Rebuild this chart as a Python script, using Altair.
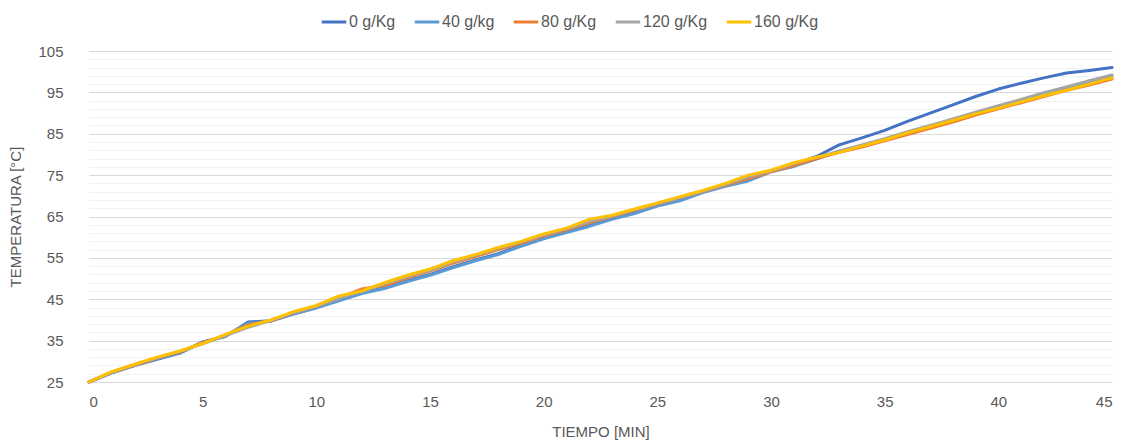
import altair as alt
import pandas as pd

minutes = list(range(46))
series_names = ["0 g/Kg", "40 g/kg", "80 g/Kg", "120 g/Kg", "160 g/Kg"]
series_colors = ["#4472C4", "#5B9BD5", "#ED7D31", "#A5A5A5", "#FFC000"]

s0 = [25, 27.2, 29, 30.5, 32, 34.7, 36, 39.5, 39.8, 41.5, 43, 44.8, 46.5, 47.8, 49.5, 51,
      52.8, 54.5, 56, 58, 59.8, 61.3, 62.8, 64.5, 66, 67.8, 69, 71, 72.5, 73.8, 76, 77.5,
      79.5, 82.3, 84, 85.8, 88, 90, 92, 94, 95.8, 97.2, 98.5, 99.7, 100.3, 101]
s40 = [25, 27.2, 29, 30.6, 32.1, 34.6, 36.1, 39.2, 39.7, 41.4, 42.9, 44.6, 46.4, 47.6, 49.3, 50.8,
       52.6, 54.3, 55.8, 57.8, 59.6, 61.1, 62.6, 64.3, 65.7, 67.5, 68.8, 70.8, 72.3, 73.6, 75.8, 77.1,
       78.9, 80.8, 82.1, 83.5, 85.1, 86.6, 88.2, 89.8, 91.4, 92.9, 94.5, 95.9, 97.4, 98.9]
s80 = [25, 27.3, 29, 30.8, 32.3, 34.5, 36.2, 38.8, 39.8, 41.7, 43.3, 45.3, 47.5, 48.3, 50.2, 51.8,
       53.7, 55.3, 57, 58.5, 60.3, 61.8, 63.5, 65, 66.5, 68, 69.5, 71, 72.6, 74.2, 75.8, 77.3,
       79, 80.5, 81.8, 83.3, 84.8, 86.3, 87.8, 89.5, 91, 92.5, 94, 95.5, 96.8, 98.2]
s120 = [25, 27.3, 29.1, 30.9, 32.4, 34.2, 36.2, 38.2, 39.9, 41.8, 43.3, 45.3, 46.9, 48.7, 50.5, 52,
        54, 55.6, 57.3, 58.8, 60.5, 62, 63.8, 65.1, 66.6, 68.1, 69.6, 71.1, 72.8, 74.6, 76, 77.8,
        79.3, 80.8, 82.3, 83.8, 85.5, 87, 88.6, 90.2, 91.8, 93.3, 94.9, 96.3, 97.8, 99.2]
s160 = [25, 27.5, 29.3, 31, 32.5, 34.3, 36.5, 38.5, 40, 42, 43.5, 45.8, 47, 49, 50.8, 52.3,
        54.3, 55.8, 57.5, 59, 60.8, 62.2, 64.3, 65.3, 66.8, 68.3, 69.8, 71.3, 73, 75, 76.2, 78,
        79.3, 80.5, 82, 83.5, 85.2, 86.7, 88.2, 89.8, 91.2, 92.7, 94.2, 95.5, 97, 98.5]

all_series = [s0, s40, s80, s120, s160]

rows = []
for order, (name, vals) in enumerate(zip(series_names, all_series)):
    for t, v in zip(minutes, vals):
        rows.append({"Tiempo": t, "Temperatura": v, "Serie": name, "orden": order})
df = pd.DataFrame(rows)

x_ticks = list(range(0, 46, 5))
y_grid = list(range(25, 106, 2))

FONT = "Liberation Sans"
TXT = "#595959"

chart = alt.Chart(df).mark_line(strokeWidth=3, strokeJoin="round", strokeCap="round").encode(
    x=alt.X("Tiempo:Q",
            scale=alt.Scale(domain=[0, 45], nice=False),
            axis=alt.Axis(title="TIEMPO [MIN]", values=x_ticks, grid=False, ticks=False,
                          domain=False, labelPadding=12, titlePadding=15,
                          labelFontSize=15, titleFontSize=15, labelColor=TXT, titleColor=TXT,
                          labelFont=FONT, titleFont=FONT, titleFontWeight="normal")),
    y=alt.Y("Temperatura:Q",
            scale=alt.Scale(domain=[25, 105], nice=False, zero=False),
            axis=alt.Axis(title="TEMPERATURA  [°C]", values=y_grid, ticks=False, domain=False,
                          labelExpr="(datum.value - 25) % 10 == 0 ? datum.label : ''",
                          gridColor={"condition": {"test": "(datum.value - 25) % 10 == 0", "value": "#D9D9D9"},
                                     "value": "#F2F2F2"},
                          gridWidth=1, labelPadding=26, titlePadding=14,
                          labelFontSize=15, titleFontSize=15, labelColor=TXT, titleColor=TXT,
                          labelFont=FONT, titleFont=FONT, titleFontWeight="normal")),
    color=alt.Color("Serie:N",
                    scale=alt.Scale(domain=series_names, range=series_colors),
                    sort=series_names,
                    legend=alt.Legend(title=None, orient="none", direction="horizontal",
                                      legendX=231, legendY=-43, symbolType="stroke",
                                      symbolStrokeWidth=3, symbolSize=600, columnPadding=12,
                                      labelFontSize=16, labelColor=TXT, labelFont=FONT,
                                      labelOffset=1)),
    order=alt.Order("orden:Q"),
    detail="Serie:N",
).properties(
    width=1023,
    height=331,
    autosize=alt.AutoSizeParams(type="none"),
    padding={"left": 81, "top": 43, "right": 6, "bottom": 60},
).configure_view(stroke=None)

chart.save("out.html", embed_options={"renderer": "svg", "actions": False})
